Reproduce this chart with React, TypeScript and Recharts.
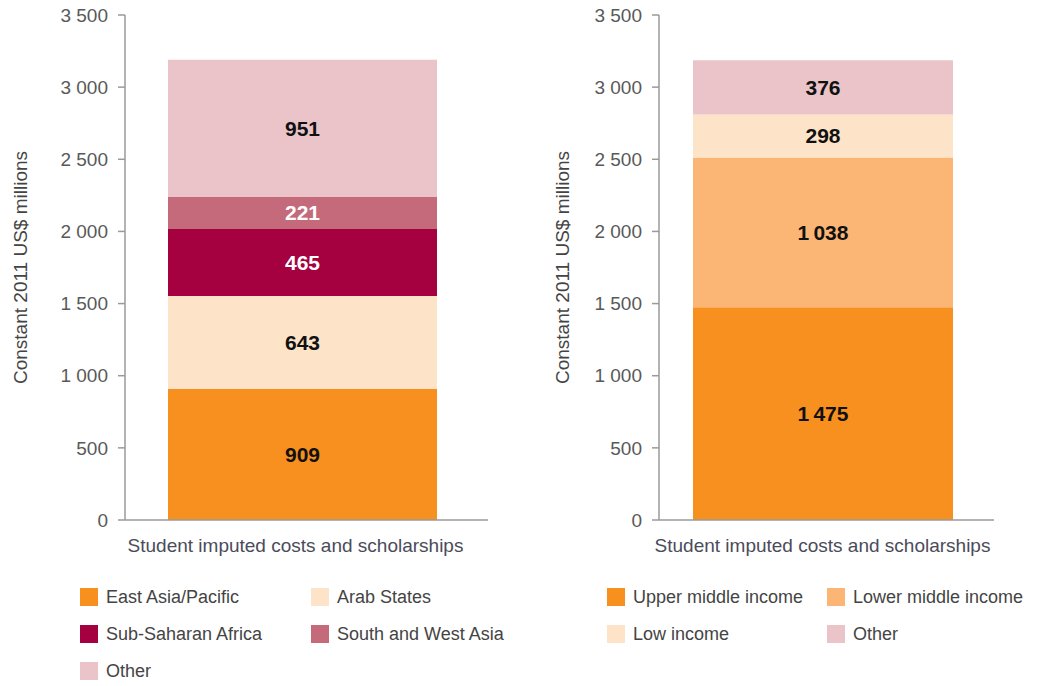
import { BarChart, Bar, XAxis, YAxis, LabelList } from "recharts";

const categories = ["Student imputed costs and scholarships"];
const yTicks = [0, 500, 1000, 1500, 2000, 2500, 3000, 3500];

const regionNames = [
  "East Asia/Pacific",
  "Arab States",
  "Sub-Saharan Africa",
  "South and West Asia",
  "Other",
];
const regionValues = [909, 643, 465, 221, 951];
const regionColors = ["#f7901e", "#fde3c8", "#a50040", "#c46a7a", "#eac4c8"];
const regionLabelColors = ["#111", "#111", "#fff", "#fff", "#111"];

const incomeNames = [
  "Upper middle income",
  "Lower middle income",
  "Low income",
  "Other",
];
const incomeValues = [1475, 1038, 298, 376];
const incomeColors = ["#f7901e", "#fbb574", "#fde3c8", "#eac4c8"];
const incomeLabelColors = ["#111", "#111", "#111", "#111"];

const AXIS = "#9a9a9a";
const TICK = "#595959";

function tickFmt(v: number): string {
  if (v < 1000) return String(v);
  return `${Math.floor(v / 1000)} ${String(v % 1000).padStart(3, "0")}`;
}

function barFmt(v: number): string {
  if (v < 1000) return String(v);
  return `${Math.floor(v / 1000)}\u2009${String(v % 1000).padStart(3, "0")}`;
}

function buildRow(names: string[], values: number[]) {
  const row: Record<string, string | number> = { name: categories[0] };
  names.forEach((n, i) => {
    row[n] = values[i];
  });
  return [row];
}

function yLabel(baseX: number) {
  return (props: any) => {
    const vb = props.viewBox || {};
    const x = (vb.x ?? 0) + baseX;
    const y = (vb.y ?? 0) + (vb.height ?? 0) / 2;
    return (
      <text
        x={x}
        y={y}
        transform={`rotate(-90 ${x} ${y})`}
        textAnchor="middle"
        fill="#444"
        fontSize={19}
      >
        Constant 2011 US$ millions
      </text>
    );
  };
}

interface StackProps {
  names: string[];
  values: number[];
  colors: string[];
  labelColors: string[];
  width: number;
  axisWidth: number;
  rightMargin: number;
  barSize: number;
  labelX: number;
  tickDx: number;
}

function StackChart(p: StackProps) {
  const data = buildRow(p.names, p.values);
  return (
    <BarChart
      width={p.width}
      height={570}
      data={data}
      margin={{ top: 15, right: p.rightMargin, bottom: 10, left: 0 }}
    >
      <XAxis
        dataKey="name"
        height={40}
        padding={{ left: 0, right: 8 }}
        tickLine={false}
        tickSize={0}
        tickMargin={19}
        axisLine={{ stroke: AXIS, strokeWidth: 1.5 }}
        tick={{ fill: "#4b4b5a", fontSize: 19, dx: p.tickDx }}
      />
      <YAxis
        width={p.axisWidth}
        domain={[0, 3500]}
        ticks={yTicks}
        interval={0}
        tickFormatter={tickFmt}
        tickSize={7}
        tickMargin={10}
        axisLine={{ stroke: AXIS, strokeWidth: 1.5 }}
        tickLine={{ stroke: AXIS, strokeWidth: 1.5 }}
        tick={{ fill: TICK, fontSize: 19 }}
        label={yLabel(p.labelX)}
      />
      {p.names.map((n, i) => (
        <Bar
          key={n}
          dataKey={n}
          stackId="a"
          fill={p.colors[i]}
          barSize={p.barSize}
          isAnimationActive={false}
        >
          <LabelList
            dataKey={n}
            position="center"
            fill={p.labelColors[i]}
            fontSize={21}
            fontWeight="bold"
            formatter={(v: any) => barFmt(Number(v))}
          />
        </Bar>
      ))}
    </BarChart>
  );
}

function LegendBlock({
  names,
  colors,
  left,
  colWidth,
}: {
  names: string[];
  colors: string[];
  left: number;
  colWidth: number;
}) {
  const rowTops = [588, 625, 662];
  return (
    <>
      {names.map((n, i) => {
        const col = i % 2;
        const row = Math.floor(i / 2);
        return (
          <div
            key={n}
            style={{
              position: "absolute",
              left: left + col * colWidth,
              top: rowTops[row],
              display: "flex",
              alignItems: "center",
              height: 18,
              fontSize: 18,
              color: "#444",
              whiteSpace: "nowrap",
            }}
          >
            <span
              style={{
                display: "inline-block",
                width: 18,
                height: 18,
                background: colors[i],
                marginRight: 8,
              }}
            />
            {n}
          </div>
        );
      })}
    </>
  );
}

export default function App() {
  return (
    <div
      style={{
        position: "absolute",
        left: 0,
        top: 0,
        width: 1043,
        height: 686,
        background: "#fff",
        fontFamily: "'Liberation Sans', Arial, sans-serif",
        overflow: "hidden",
      }}
    >
      <div style={{ position: "absolute", left: 0, top: 0 }}>
        <StackChart
          names={regionNames}
          values={regionValues}
          colors={regionColors}
          labelColors={regionLabelColors}
          width={520}
          axisWidth={125}
          rightMargin={32}
          barSize={269}
          labelX={27}
          tickDx={-7}
        />
      </div>
      <div style={{ position: "absolute", left: 540, top: 0 }}>
        <StackChart
          names={incomeNames}
          values={incomeValues}
          colors={incomeColors}
          labelColors={incomeLabelColors}
          width={503}
          axisWidth={119}
          rightMargin={49}
          barSize={260}
          labelX={29}
          tickDx={0}
        />
      </div>
      <LegendBlock names={regionNames} colors={regionColors} left={80} colWidth={231} />
      <LegendBlock names={incomeNames} colors={incomeColors} left={607} colWidth={220} />
    </div>
  );
}
